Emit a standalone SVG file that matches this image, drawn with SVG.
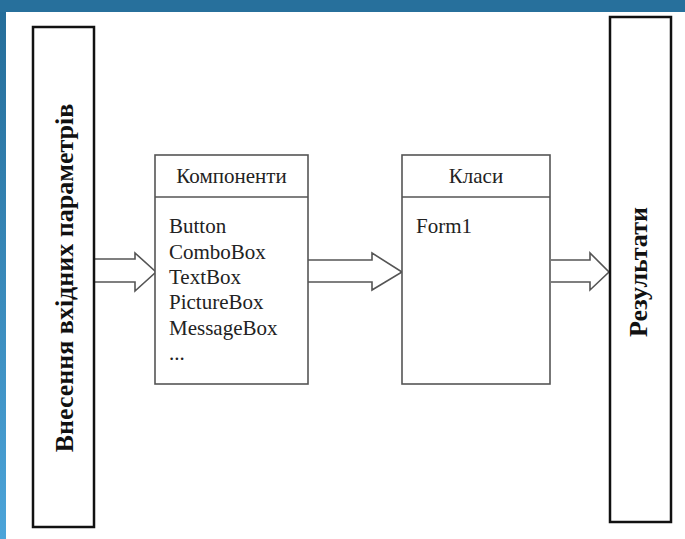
<svg xmlns="http://www.w3.org/2000/svg" width="685" height="539" viewBox="0 0 685 539">
<defs>
<linearGradient id="bg" x1="0" y1="0" x2="0" y2="1">
<stop offset="0" stop-color="#246c98"/>
<stop offset="1" stop-color="#4ca4d9"/>
</linearGradient>
</defs>
<style>
.outer{fill:#fff;stroke:#111;stroke-width:2.5}
.inner{fill:#fff;stroke:#555;stroke-width:1.6}
.arrow{fill:#fff;stroke:#555;stroke-width:1.6;stroke-linejoin:miter}
.vt{font-family:"Liberation Serif","Times New Roman",serif;font-size:26px;font-weight:bold;fill:#111;text-anchor:middle}
.t{font-family:"Liberation Serif","Times New Roman",serif;font-size:21px;fill:#222}
.h{font-family:"Liberation Serif","Times New Roman",serif;font-size:21px;fill:#222;text-anchor:middle}
</style>
<rect x="0" y="0" width="685" height="539" fill="url(#bg)"/>
<rect x="0" y="0" width="685" height="12" fill="#27709c"/>
<rect x="6" y="12" width="679" height="527" fill="#fff"/>
<g id="connectors">
<path class="arrow" d="M94,259 H135 V253 L156,272 L135,291 V282 H94"/>
<path class="arrow" d="M308,260 H372 V253 L402,272 L372,290 V282 H308"/>
<path class="arrow" d="M551,260 H590 V253 L609,272 L590,290 V282 H551"/>
</g>
<g id="input">
<rect class="outer" x="33" y="27" width="61" height="500"/>
<text class="vt" transform="translate(73,278) rotate(-90)">Внесення вхідних параметрів</text>
</g>
<g id="components">
<rect class="inner" x="155" y="155" width="153" height="229"/>
<line class="inner" x1="155" y1="197" x2="308" y2="197"/>
<text class="h" x="231.5" y="183">Компоненти</text>
<text class="t" x="169" y="233">Button</text>
<text class="t" x="169" y="259">ComboBox</text>
<text class="t" x="169" y="284">TextBox</text>
<text class="t" x="169" y="309">PictureBox</text>
<text class="t" x="169" y="335">MessageBox</text>
<text class="t" x="169" y="360">...</text>
</g>
<g id="classes">
<rect class="inner" x="402" y="155" width="148" height="229"/>
<line class="inner" x1="402" y1="197" x2="550" y2="197"/>
<text class="h" x="476" y="183">Класи</text>
<text class="t" x="416" y="233">Form1</text>
</g>
<g id="results">
<rect class="outer" x="610" y="17" width="61" height="505"/>
<text class="vt" transform="translate(647,272) rotate(-90)">Результати</text>
</g>
</svg>
